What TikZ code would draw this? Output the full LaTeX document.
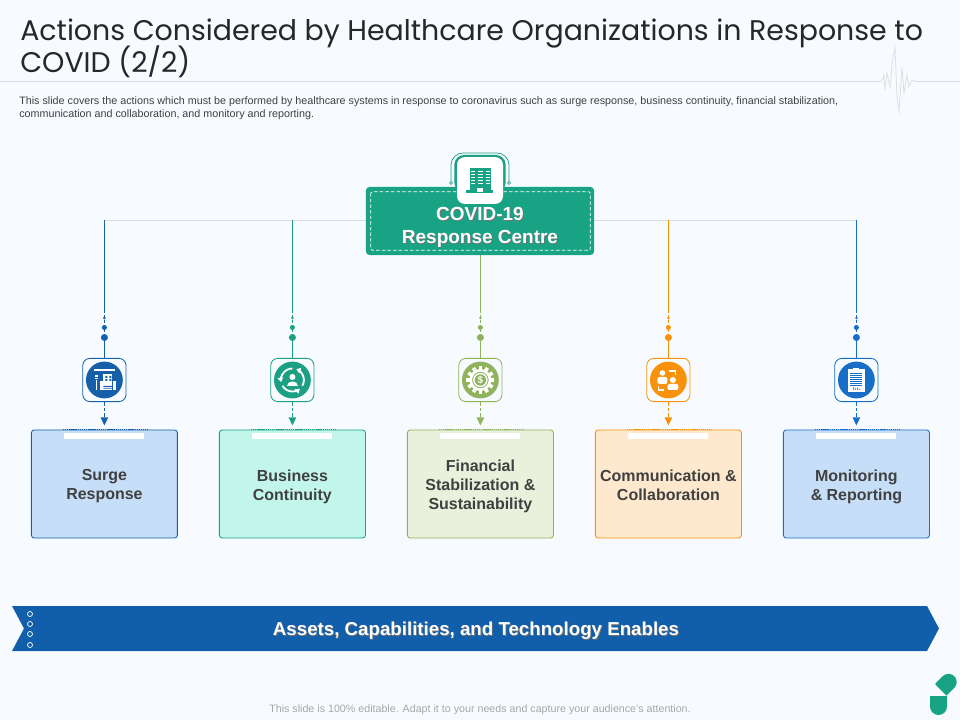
\documentclass[tikz,border=0pt]{standalone}
\usepackage{fontspec}
\setmainfont{Liberation Sans}
\newfontfamily\titlefont{Poppins}
\usetikzlibrary{arrows.meta, calc}
\definecolor{PageBg}{HTML}{F7FBFF}
\definecolor{RuleGray}{HTML}{D9DEDD}
\definecolor{TextGray}{HTML}{404040}
\definecolor{CentreGreen}{HTML}{17A384}
\definecolor{BannerBlue}{HTML}{115FAB}
\definecolor{SurgeCol}{HTML}{1560A8}
\definecolor{ContCol}{HTML}{1BA083}
\definecolor{FinCol}{HTML}{8FB35C}
\definecolor{CommCol}{HTML}{F7920A}
\definecolor{MonCol}{HTML}{176EC6}
\definecolor{SurgeFill}{HTML}{C6DEF8}
\definecolor{ContFill}{HTML}{C3F6EA}
\definecolor{FinFill}{HTML}{E9F0DC}
\definecolor{CommFill}{HTML}{FEE9CF}
\definecolor{MonFill}{HTML}{C6DEF8}
\tikzset{
  cardbox/.style={draw=#1, rounded corners=2pt, minimum width=3.65cm, minimum height=2.7cm, inner sep=0pt, line width=0.6pt},
  iconbox/.style={draw=#1, fill=PageBg, rounded corners=5pt, minimum size=1.08cm, inner sep=0pt, line width=0.6pt},
  bigdot/.style={circle, fill=#1, minimum size=5pt, inner sep=0pt},
  middot/.style={circle, fill=#1, minimum size=3.6pt, inner sep=0pt},
  tinydot/.style={circle, fill=#1, minimum size=2pt, inner sep=0pt},
  cardtext/.style={font=\fontsize{11.35}{13.5}\selectfont\bfseries, text=TextGray, align=center, text depth=3pt},
  bigtext/.style={font=\fontsize{13.5}{16.4}\selectfont\bfseries, align=center},
  titletext/.style={anchor=base west, inner sep=0pt, font=\titlefont\fontsize{20.2}{24}\selectfont, text=TextGray!60!black},
}
\begin{document}
\begin{tikzpicture}[x=0.025cm, y=-0.025cm]
    \useasboundingbox (0,0) rectangle (960,720);
    \fill[PageBg] (0,0) rectangle (960,720);

    % --- Title ---
    \node[titletext] (titleA) at (20,41) {Actions Considered by Healthcare Organizations in Response to};
    \node[titletext] (titleB) at (20,73) {COVID (2/2)};
    \draw[RuleGray, line width=0.5pt] (0,81) -- (882,81);
    \draw[RuleGray, line width=0.5pt] (914,81) -- (960,81);
    \draw[RuleGray, line width=0.5pt] (882,81) -- (884,75) -- (885,90) -- (887,73) -- (890,88) -- (892,64) -- (895,47) -- (897,97) -- (899,112) -- (902,68) -- (904,93) -- (907,75) -- (909,87) -- (912,80) -- (914,81);

    % --- Description ---
    \node[anchor=north west, inner sep=0pt, align=left, text=TextGray, font=\fontsize{7.65}{9.2}\selectfont] (descr) at (19,96.5)
      {This slide covers the actions which must be performed by healthcare systems in response to coronavirus such as surge response, business continuity, financial stabilization,\\
       communication and collaboration, and monitory and reporting.};

    % --- Main line ---
    \coordinate (top1) at (104,220);
    \coordinate (top5) at (856,220);
    \draw[RuleGray, line width=0.6pt] (top1) -- (top5);

    % --- Columns ---
    \foreach \i/\cx/\col/\fil/\lbl in {
        1/104.4/SurgeCol/SurgeFill/{Surge\\Response},
        2/292.4/ContCol/ContFill/{Business\\Continuity},
        3/480.4/FinCol/FinFill/{Financial\\Stabilization \&\\Sustainability},
        4/668.4/CommCol/CommFill/{Communication \&\\Collaboration},
        5/856.4/MonCol/MonFill/{Monitoring\\\& Reporting}} {
      \coordinate (top\i) at (\cx,220);
      \coordinate (brk\i) at (\cx,310);
      \node[tinydot=\col] (dotA\i) at (\cx,318) {};
      \node[middot=\col] (dotB\i) at (\cx,327.5) {};
      \node[bigdot=\col] (dotC\i) at (\cx,337.5) {};
      \node[iconbox=\col] (icon\i) at (\cx,380) {};
      \node[circle, fill=\col, minimum size=0.92cm, inner sep=0pt] (disc\i) at (icon\i.center) {};
      \node[cardbox=\col, fill=\fil] (card\i) at (\cx,484) {};
      \node[cardtext] (text\i) at ($(card\i.center)+(0,3)$) {\lbl};
      \coordinate (tip\i) at (\cx,425.5);
      \draw[\col, line width=0.8pt] (top\i) -- (brk\i);
      \draw[\col, line width=0.8pt, dash pattern=on 2pt off 1.5pt] (brk\i) -- (dotC\i);
      \draw[\col, line width=0.8pt] (dotC\i) -- (icon\i);
      \draw[\col, line width=0.8pt, dash pattern=on 2.5pt off 1.5pt, -{Triangle[length=5.7pt, width=5.2pt]}] (icon\i) -- (tip\i);
      \draw[\col, line width=0.8pt, dash pattern=on 1pt off 0.5pt] ($(card\i.north)+(-41.6,0)$) -- ($(card\i.north)+(43.4,0)$);
      \fill[white] ($(card\i.north)+(-40,3)$) rectangle ($(card\i.north)+(40,9)$);
    }

    % --- Surge icon ---
    \begin{scope}[shift={(disc1.center)}, white]
      \fill (-10,-10.6) rectangle (10.5,-9.4);
      \fill (-1,-6) rectangle (8,5);
      \fill (-4,1) rectangle (-1.8,10);
      \fill (9,1) rectangle (12,10);
      \fill (-1,5.5) rectangle (8,10);
      \fill[SurgeCol] (1,-4) rectangle (3,-2) (5,-4) rectangle (7,-2) (1,-1) rectangle (3,1) (5,-1) rectangle (7,1);
      \fill[SurgeCol] (-1,6) rectangle (8,7) (-1,8) rectangle (8,8.6);
      \fill (-9.5,-4.5) rectangle (-6.5,-3);
      \fill (-9.5,-2) rectangle (-6.5,-0.8);
      \fill (-8.4,0) rectangle (-7.6,10);
    \end{scope}

    % --- Continuity icon ---
    \begin{scope}[shift={(disc2.center)}, white]
      \draw[line width=1.3pt, -{Triangle[length=3pt, width=4pt]}] (150:11.5) arc (150:50:11.5);
      \draw[line width=1.3pt, -{Triangle[length=3pt, width=4pt]}] (30:11.5) arc (30:-70:11.5);
      \draw[line width=1.3pt, -{Triangle[length=3pt, width=4pt]}] (-90:11.5) arc (-90:-190:11.5);
      \fill (0,-3) circle (3);
      \fill (-5.5,6) .. controls (-5.5,0) and (5.5,0) .. (5.5,6) -- cycle;
    \end{scope}

    % --- Finance icon ---
    \begin{scope}[shift={(disc3.center)}, white]
      \foreach \a in {0,30,...,330} {
        \fill[rotate=\a] (-1.8,-14) rectangle (1.8,-9);
      }
      \fill[even odd rule] (0,0) circle (11) (0,0) circle (8.3);
      \draw[line width=1pt] (0,0) circle (6.5);
      \node[font=\fontsize{7}{7}\selectfont\bfseries, text=white, inner sep=0pt] (dollar) at (0,0) {\$};
    \end{scope}

    % --- Communication icon ---
    \begin{scope}[shift={(disc4.center)}, white]
      \fill (-6,-7) circle (2.8);
      \fill (4.5,0) circle (3);
      \fill[rounded corners=1.5pt] (-11,4) -- (-11,-3) -- (-1,-3) -- (-1,4) -- cycle;
      \fill[rounded corners=1.5pt] (-1,10) -- (-1,4) -- (10,4) -- (10,10) -- cycle;
      \draw[line width=0.8pt] (1,-9) -- (7,-9) -- (7,-5);
      \draw[line width=0.8pt] (-10,6) -- (-10,10) -- (-4,10);
    \end{scope}

    % --- Monitoring icon ---
    \begin{scope}[shift={(disc5.center)}, white]
      \fill (-8.5,-10.5) rectangle (8.5,12);
      \fill (-3,-12) rectangle (3,-9);
      \foreach \yy in {-7,-5,...,5} {
        \draw[MonCol, line width=0.45pt] (-6,\yy) -- (6,\yy);
      }
      \fill[MonCol] (-3,10) rectangle (-2.2,7) (-1,10) rectangle (-0.2,8) (1,10) rectangle (1.8,7.5) (3,10) rectangle (3.8,8.7);
    \end{scope}

    % --- Centre box ---
    \draw[ContCol, line width=0.5pt] (451,183) -- (451,165) arc (180:270:12) -- (497,153) arc (270:360:12) -- (509,183);
    \fill[ContCol, rounded corners=7pt] (454.3,155) rectangle (505.7,192);
    \draw[ContCol, line width=0.5pt, fill=white] (451,183) circle (1.5);
    \draw[ContCol, line width=0.5pt, fill=white] (509,183) circle (1.5);
    \node[fill=CentreGreen, rounded corners=2.5pt, minimum width=5.7cm, minimum height=1.7cm, inner sep=0pt] (centre) at (480,221) {};
    \draw[white, line width=0.5pt, dash pattern=on 2.5pt off 1.5pt, rounded corners=1pt]
      ([shift={(5,5)}]centre.north west) rectangle ([shift={(-4,-5)}]centre.south east);
    \node[fill=white, rounded corners=5.5pt, minimum width=1.15cm, minimum height=1.17cm, inner sep=0pt] (tower) at (480,180.5) {};
    \begin{scope}[shift={(tower.center)}, CentreGreen]
      \fill (-10.5,-12.5) rectangle (-3.5,9.5);
      \fill (-3,-12.5) rectangle (3.5,9.5);
      \fill (4,-12.5) rectangle (11,9.5);
      \foreach \yy in {-9,-6,...,3} {
        \draw[white, line width=0.5pt] (-9,\yy) -- (-5,\yy) (-2,\yy) -- (2.5,\yy) (5.5,\yy) -- (9.5,\yy);
      }
      \fill (-14,9.5) rectangle (13,12.5);
      \fill[white] (-3,7.5) rectangle (3,12);
    \end{scope}
    \node[bigtext, text=black!55] (centreSh) at (480.8,228.1) {COVID-19\\Response Centre};
    \node[bigtext, text=white] (centreTxt) at (480,227.5) {COVID-19\\Response Centre};

    % --- Banner ---
    \fill[BannerBlue] (12,606) -- (927,606) -- (939,628.5) -- (927,651) -- (12,651) -- (24,628.5) -- cycle;
    \foreach \yy in {614,624,634,645} {
      \draw[white, line width=0.5pt] (30,\yy) circle (2.5);
    }
    \node[font=\fontsize{13.3}{15}\selectfont\bfseries, text=black!55] (bannerSh) at (476.8,631.6) {Assets, Capabilities, and Technology Enables};
    \node[font=\fontsize{13.3}{15}\selectfont\bfseries, text=white] (bannerTxt) at (476,631) {Assets, Capabilities, and Technology Enables};

    % --- Footer and logo ---
    \node[font=\fontsize{7.6}{9}\selectfont, text=black!35] (footer) at (480,709.5) {This slide is 100\% editable. Adapt it to your needs and capture your audience's attention.};
    \fill[CentreGreen] (930,696) -- (947,696) -- (947,706.5) arc (0:180:8.5) -- cycle;
    \fill[CentreGreen] (935,684) -- (942.7,676.2) arc (225:405:8.2) -- (946.5,695.6) -- cycle;
\end{tikzpicture}
\end{document}
